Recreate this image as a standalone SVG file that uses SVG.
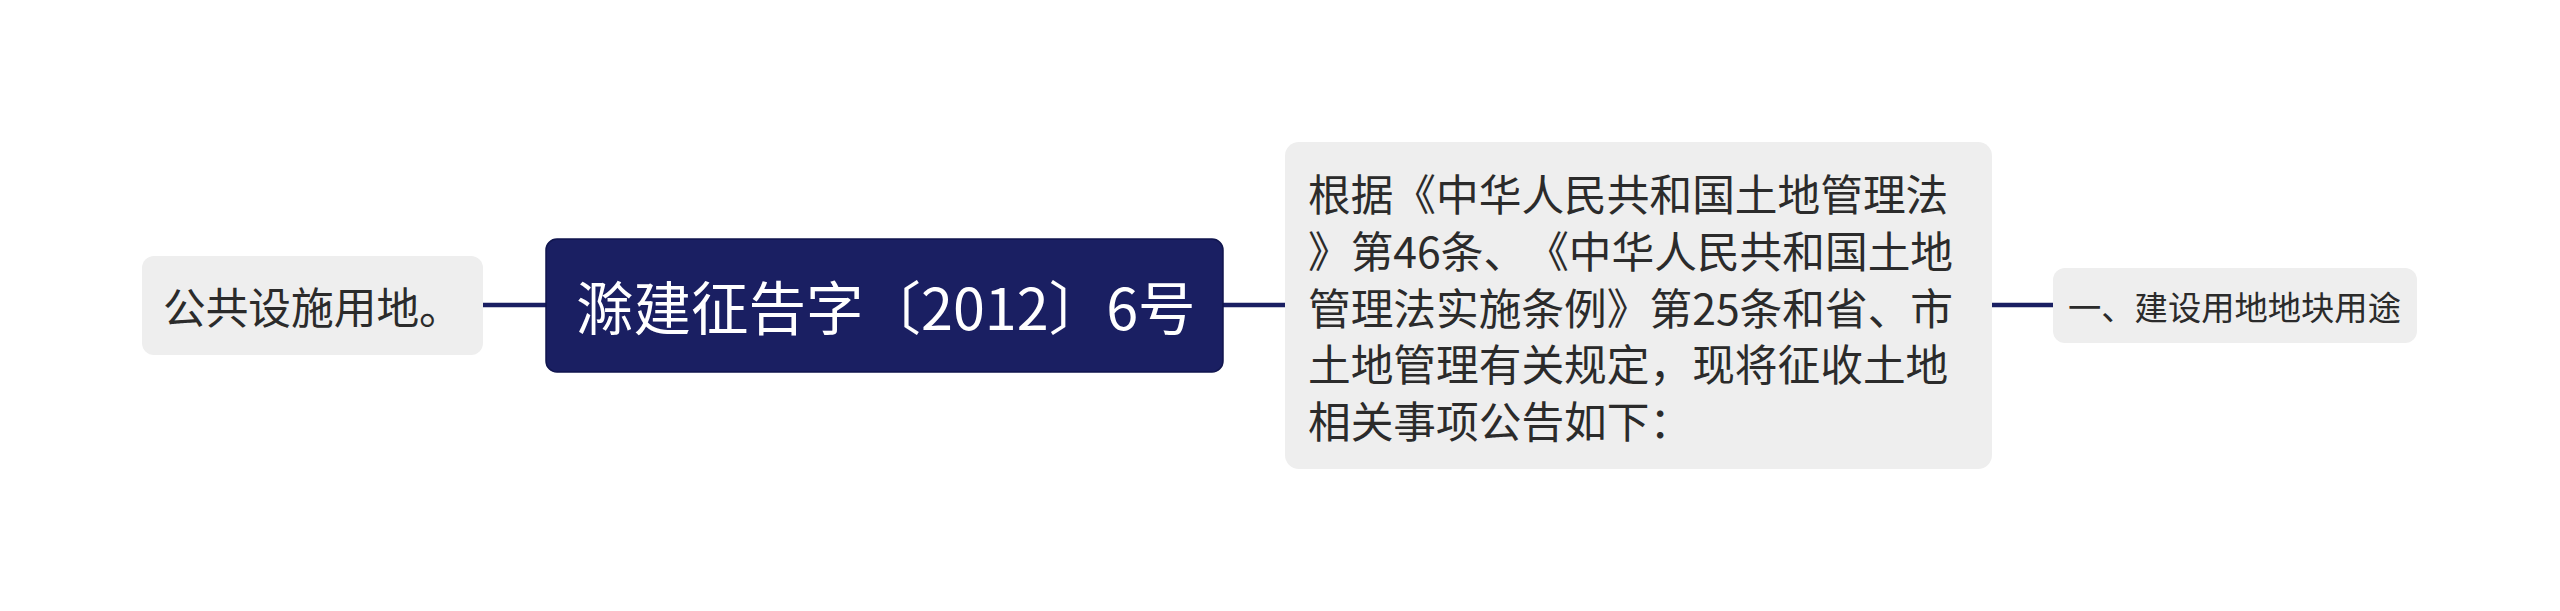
<svg xmlns="http://www.w3.org/2000/svg" width="2560" height="611" viewBox="0 0 2560 611">
  <style>
    .sub { fill: #eeeeee; }
    .root { fill: #1a1f62; stroke: #10154e; stroke-width: 1.5; }
    .t { font-family: "Noto Sans CJK SC", "Noto Sans", sans-serif; fill: #2b2b2b; text-spacing-trim: space-all; }
    .rt { font-family: "Noto Sans CJK SC", "Noto Sans", sans-serif; fill: #ffffff; text-spacing-trim: space-all; }
    .conn { stroke: #1a1f62; stroke-width: 4.5; fill: none; }
  </style>
  <rect width="2560" height="611" fill="#ffffff"/>
  <g id="connectors">
    <line class="conn" x1="483" y1="305" x2="546" y2="305"/>
    <line class="conn" x1="1222" y1="305" x2="1286" y2="305"/>
    <line class="conn" x1="1991" y1="305" x2="2054" y2="305"/>
  </g>
  <g id="node-left">
    <rect class="sub" x="142" y="256" width="341" height="99" rx="12"/>
    <text class="t" x="163" y="305" font-size="42.7" dominant-baseline="central">公共设施用地。</text>
  </g>
  <g id="node-root">
    <rect class="root" x="546" y="239" width="677" height="133" rx="11"/>
    <text class="rt" x="576" y="305" font-size="57.5" dominant-baseline="central">滁建征告字〔2012〕6号</text>
  </g>
  <g id="node-main">
    <rect class="sub" x="1285" y="142" width="707" height="327" rx="14"/>
    <text class="t" font-size="42.7" dominant-baseline="central">
      <tspan x="1308" y="192">根据《中华人民共和国土地管理法</tspan>
      <tspan x="1308" y="249">》第46条、《中华人民共和国土地</tspan>
      <tspan x="1308" y="306">管理法实施条例》第25条和省、市</tspan>
      <tspan x="1308" y="362">土地管理有关规定，现将征收土地</tspan>
      <tspan x="1308" y="419">相关事项公告如下：</tspan>
    </text>
  </g>
  <g id="node-right">
    <rect class="sub" x="2053" y="268" width="364" height="75" rx="12"/>
    <text class="t" x="2068" y="305" font-size="33.3" dominant-baseline="central">一、建设用地地块用途</text>
  </g>
</svg>
